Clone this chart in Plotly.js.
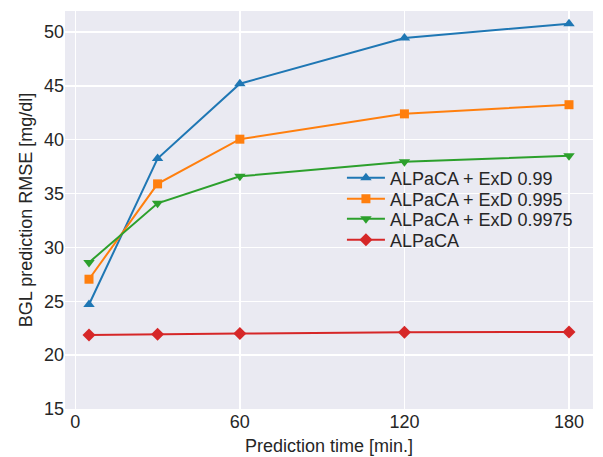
<!DOCTYPE html>
<html>
<head>
<meta charset="utf-8">
<script src="https://cdn.plot.ly/plotly-3.0.1.min.js"></script>
<style>html,body{margin:0;padding:0;background:#fff;}#chart{width:603px;height:457px;}</style>
</head>
<body>
<div id="chart"></div>
<script>
const predictionTimes = [5, 30, 60, 120, 180];
const seriesNames = ["ALPaCA + ExD 0.99", "ALPaCA + ExD 0.995", "ALPaCA + ExD 0.9975", "ALPaCA"];
const rmseExD099 = [24.7, 38.25, 45.2, 49.45, 50.77];
const rmseExD0995 = [27.05, 35.9, 40.05, 42.4, 43.25];
const rmseExD09975 = [28.6, 34.1, 36.6, 37.95, 38.5];
const rmseALPaCA = [21.88, 21.95, 22.0, 22.12, 22.16];
const xTicks = [0, 60, 120, 180];
const yTicks = [15, 20, 25, 30, 35, 40, 45, 50];

const colors = ["#1f77b4", "#ff7f0e", "#2ca02c", "#d62728"];
const symbols = ["triangle-up", "square", "triangle-down", "diamond"];
const sizes = [10, 9, 10, 10];
const allSeries = [rmseExD099, rmseExD0995, rmseExD09975, rmseALPaCA];
const legendIds = ["legend", "legend2", "legend3", "legend4"];
const legendY = [0.5804, 0.5276, 0.4774, 0.4246];

const traces = allSeries.map((ys, i) => ({
  x: predictionTimes,
  y: ys,
  name: seriesNames[i],
  legend: legendIds[i],
  type: "scatter",
  mode: "lines+markers",
  line: {color: colors[i], width: 2},
  marker: {symbol: symbols[i], size: sizes[i], color: colors[i]}
}));

const font = {family: "Liberation Sans, Arial, sans-serif", size: 18, color: "#262626"};

const layout = {
  width: 603, height: 457,
  margin: {l: 65, r: 10, t: 11, b: 48},
  paper_bgcolor: "#ffffff",
  plot_bgcolor: "#eaeaf2",
  font: font,
  showlegend: true,
  xaxis: {
    range: [-3.75, 188.75],
    tickvals: xTicks,
    ticktext: xTicks.map(String),
    showgrid: true, gridcolor: "#ffffff", gridwidth: 1.3,
    zeroline: false, showline: false, ticks: "",
    tickfont: font,
    title: {text: "Prediction time [min.]", font: font, standoff: 8}
  },
  yaxis: {
    range: [15, 51.95],
    tickvals: yTicks,
    ticktext: yTicks.map(String),
    showgrid: true, gridcolor: "#ffffff", gridwidth: 1.3,
    zeroline: false, showline: false, ticks: "",
    tickfont: font,
    title: {text: "BGL prediction RMSE [mg/dl]", font: font, standoff: 6}
  }
};
legendIds.forEach((id, i) => {
  layout[id] = {
    x: 0.5245, y: legendY[i], xanchor: "left", yanchor: "middle",
    bgcolor: "rgba(0,0,0,0)", borderwidth: 0,
    font: font, itemwidth: 38
  };
});

Plotly.newPlot("chart", traces, layout, {displayModeBar: false, staticPlot: true});
</script>
</body>
</html>
